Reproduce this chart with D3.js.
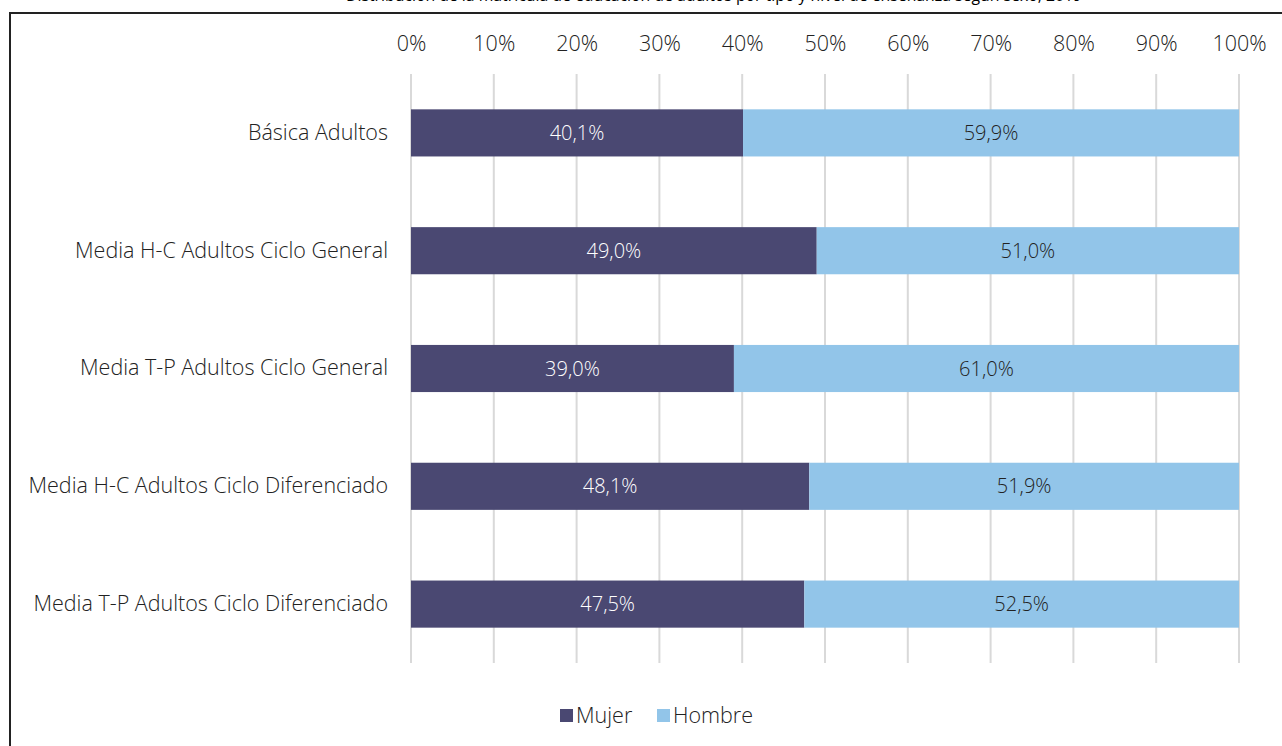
<!DOCTYPE html>
<html><head><meta charset="utf-8">
<script src="https://cdn.jsdelivr.net/npm/d3@7"></script>
<style>body{margin:0;background:#fff;} svg{display:block;}</style>
</head><body>
<svg id="c" width="1282" height="746"></svg>
<script>
const categories = ["Básica Adultos","Media H-C Adultos Ciclo General","Media T-P Adultos Ciclo General","Media H-C Adultos Ciclo Diferenciado","Media T-P Adultos Ciclo Diferenciado"];
const mujer = [40.1, 49.0, 39.0, 48.1, 47.5];
const hombre = [59.9, 51.0, 61.0, 51.9, 52.5];
const seriesNames = ["Mujer","Hombre"];
const colors = ["#4A4872","#92C5E9"];
const ticks = [0,10,20,30,40,50,60,70,80,90,100];
const title = "Distribución de la matrícula de educación de adultos por tipo y nivel de enseñanza según sexo, 2019";

const svg = d3.select("#c");
const font = "'Open Sans', sans-serif";
const fw = 300;
const fs = 21.5;
svg.append("text").attr("x",714).attr("y",1).attr("text-anchor","middle")
  .attr("font-family",font).attr("font-size",15.8).attr("fill","#000").text(title);
svg.append("rect").attr("x",10).attr("y",13).attr("width",1300).attr("height",760)
  .attr("fill","none").attr("stroke","#222").attr("stroke-width",2);

const x = d3.scaleLinear().domain([0,100]).range([411,1239]);
const y = d3.scaleBand().domain(categories).range([74,663]).paddingInner(0.6).paddingOuter(0.3);

const g = svg.append("g");
g.selectAll("line.grid").data(ticks).join("line")
  .attr("x1",d=>x(d)).attr("x2",d=>x(d)).attr("y1",74).attr("y2",663)
  .attr("stroke","#d9d9d9").attr("stroke-width",2);

const axis = d3.axisTop(x).tickValues(ticks).tickFormat(d=>d+"%").tickSize(0).tickPadding(0);
const ax = svg.append("g").attr("transform","translate(0,51)").call(axis);
ax.select(".domain").remove();
ax.selectAll("text").attr("font-family",font).attr("font-weight",fw).attr("font-size",fs).attr("fill","#222").attr("dy","0");

const data = categories.map((c,i)=>({c, vals:[mujer[i],hombre[i]]}));
data.forEach(d=>{
  let acc=0;
  d.vals.forEach((v,j)=>{
    const x0=acc; acc+=v;
    g.append("rect").attr("x",x(x0)).attr("y",y(d.c)).attr("width",x(acc)-x(x0)).attr("height",y.bandwidth()).attr("fill",colors[j]);
    g.append("text").attr("x",(x(x0)+x(acc))/2).attr("y",y(d.c)+y.bandwidth()/2).attr("dy","0.35em")
      .attr("text-anchor","middle").attr("font-family",font).attr("font-weight",fw).attr("font-size",fs-1.5)
      .attr("fill", j===0?"#fff":"#222").text(v.toFixed(1).replace(".",",")+"%");
  });
});

const ya = d3.axisLeft(y).tickSize(0).tickPadding(23);
const yg = svg.append("g").attr("transform","translate(411,0)").call(ya);
yg.select(".domain").remove();
yg.selectAll("text").attr("font-family",font).attr("font-weight",fw).attr("font-size",fs).attr("fill","#222");

const lg = svg.append("g");
const lx = [560, 657];
seriesNames.forEach((s,i)=>{
  lg.append("rect").attr("x",lx[i]).attr("y",709).attr("width",13).attr("height",13).attr("fill",colors[i]);
  lg.append("text").attr("x",lx[i]+16).attr("y",715).attr("dy","0.35em").attr("font-family",font).attr("font-weight",fw).attr("font-size",fs).attr("fill","#222").text(s);
});
</script>
</body></html>
